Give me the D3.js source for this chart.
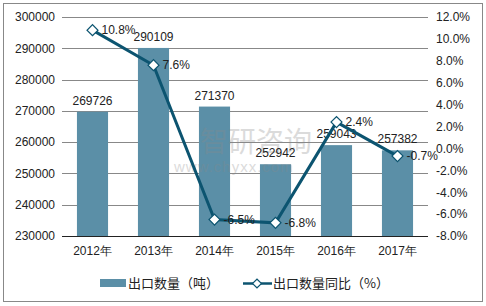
<!DOCTYPE html>
<html><head><meta charset="utf-8">
<script src="https://cdn.jsdelivr.net/npm/d3@7"></script>
<style>body{margin:0;background:#fff}svg{display:block}text{font-family:"Liberation Sans",Arial,sans-serif}</style>
</head><body><svg id="c" width="486" height="306"></svg>
<script>
const categories = ["2012年","2013年","2014年","2015年","2016年","2017年"];
const exportQty = [269726, 290109, 271370, 252942, 259043, 257382];
const yoyPct = [10.8, 7.6, -6.5, -6.8, 2.4, -0.7];
const leftTicks = [230000,240000,250000,260000,270000,280000,290000,300000];
const rightTicks = [-8,-6,-4,-2,0,2,4,6,8,10,12];
const seriesNames = ["出口数量（吨）","出口数量同比（%）"];

const svg = d3.select("#c");
const barColor = "#5b8fa7", lineColor = "#0c5470", txt = "#222";
svg.append("rect").attr("x",3.5).attr("y",3.5).attr("width",479).attr("height",298)
  .attr("fill","#fff").attr("stroke","#888").attr("stroke-width",1);

const L = 62, R = 428, T = 17, B = 236;
const x = d3.scaleBand().domain(categories).range([L,R]).paddingInner(0.49).paddingOuter(0.245);
const yL = d3.scaleLinear().domain([230000,300000]).range([B,T]);
const yR = d3.scaleLinear().domain([-8,12]).range([B,T]);

// gridlines
svg.append("g").selectAll("line").data(leftTicks).join("line")
  .attr("x1",L).attr("x2",R).attr("y1",d=>Math.round(yL(d))+0.5).attr("y2",d=>Math.round(yL(d))+0.5)
  .attr("stroke",(d,i)=>i===0?"#222":"#888").attr("stroke-width",1);

// left axis labels
const ga = d3.axisLeft(yL).tickValues(leftTicks).tickSize(0).tickPadding(7).tickFormat(d3.format("d"));
const gL = svg.append("g").attr("transform",`translate(${L},0)`).call(ga);
gL.select(".domain").remove();
gL.selectAll("text").attr("font-size",12).attr("fill",txt);

const gbR = d3.axisRight(yR).tickValues(rightTicks).tickSize(0).tickPadding(8).tickFormat(d=>d.toFixed(1)+"%");
const gR = svg.append("g").attr("transform",`translate(${R},0)`).call(gbR);
gR.select(".domain").remove();
gR.selectAll("text").attr("font-size",12).attr("fill",txt);

const gx = d3.axisBottom(x).tickSize(0).tickPadding(10);
const gX = svg.append("g").attr("transform",`translate(0,${B})`).call(gx);
gX.select(".domain").remove();
gX.selectAll("text").attr("font-size",12).attr("fill",txt);

// bars
svg.append("g").selectAll("rect").data(exportQty).join("rect")
  .attr("x",(d,i)=>x(categories[i])).attr("width",x.bandwidth())
  .attr("y",d=>yL(d)).attr("height",d=>B-yL(d)).attr("fill",barColor);

// watermark
const wm = svg.append("g").attr("opacity",0.3);
wm.append("text").attr("x",200).attr("y",152).attr("font-size",28).attr("fill","#8a8a8a")
  .style("font-family","'Noto Sans CJK SC',sans-serif").text("智研咨询");
wm.append("text").attr("x",174).attr("y",172).attr("font-size",15).attr("fill","#8a8a8a").attr("letter-spacing",1).text("www.chyxx.com");

// bar labels
svg.append("g").selectAll("text").data(exportQty).join("text")
  .attr("x",(d,i)=>x(categories[i])+x.bandwidth()/2).attr("y",d=>yL(d)-7)
  .attr("text-anchor","middle").attr("font-size",12).attr("fill",txt).text(d=>d);

// line
const cx = i => x(categories[i]) + x.bandwidth()/2;
svg.append("path").datum(yoyPct)
  .attr("d",d3.line().x((d,i)=>cx(i)).y(d=>yR(d)))
  .attr("fill","none").attr("stroke",lineColor).attr("stroke-width",3);
svg.append("g").selectAll("path").data(yoyPct).join("path")
  .attr("transform",(d,i)=>`translate(${cx(i)},${yR(d)}) rotate(45)`)
  .attr("d",d3.symbol().type(d3.symbolSquare).size(60))
  .attr("fill","#fff").attr("stroke",lineColor).attr("stroke-width",1.2);
svg.append("g").selectAll("text").data(yoyPct).join("text")
  .attr("x",(d,i)=>cx(i)+9).attr("y",d=>yR(d)+4)
  .attr("font-size",12).attr("fill",txt).text(d=>d.toFixed(1)+"%");

// legend
const lg = svg.append("g");
lg.append("rect").attr("x",100).attr("y",279).attr("width",26).attr("height",8).attr("fill",barColor);
lg.append("text").attr("x",128).attr("y",288).attr("font-size",13).attr("fill",txt)
  .style("font-family","'Noto Sans CJK SC',sans-serif").text(seriesNames[0]);
lg.append("line").attr("x1",243).attr("x2",272).attr("y1",283.5).attr("y2",283.5).attr("stroke",lineColor).attr("stroke-width",2.5);
lg.append("path").attr("transform","translate(257,283.5) rotate(45)").attr("d",d3.symbol().type(d3.symbolSquare).size(40))
  .attr("fill","#fff").attr("stroke",lineColor).attr("stroke-width",1.2);
lg.append("text").attr("x",273).attr("y",288).attr("font-size",13).attr("fill",txt)
  .style("font-family","'Noto Sans CJK SC',sans-serif").text(seriesNames[1]);
</script></body></html>
